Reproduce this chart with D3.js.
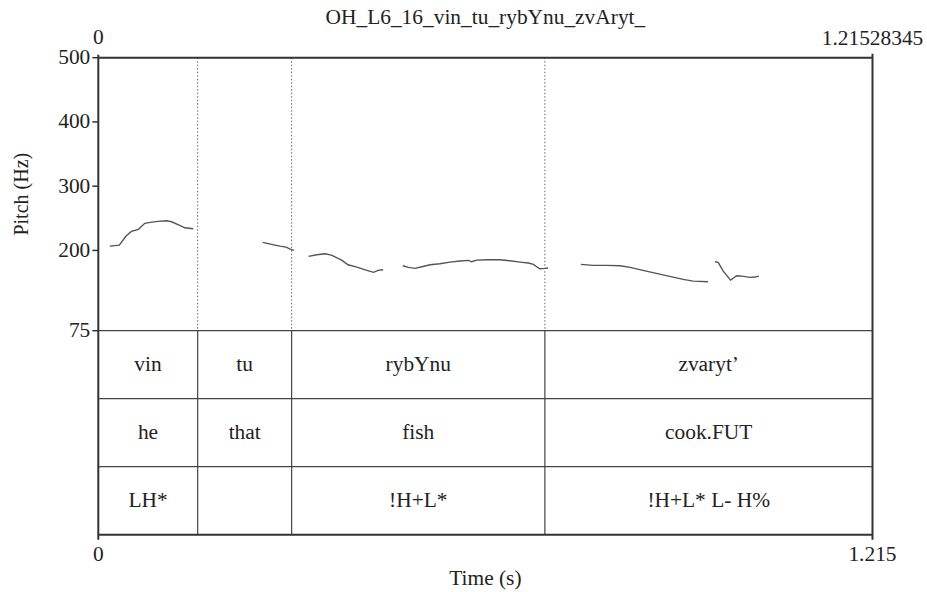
<!DOCTYPE html>
<html>
<head>
<meta charset="utf-8">
<script src="https://cdn.jsdelivr.net/npm/d3@7"></script>
<style>
  body { margin: 0; background: #fff; }
</style>
</head>
<body>
<div id="chart"></div>
<script>
var width = 927,
    height = 592;

var title = "OH_L6_16_vin_tu_rybYnu_zvAryt_";
var duration = 1.21528345;
var yTicks = [500, 400, 300, 200, 75];

// interval boundaries (s)
var bounds = [0, 0.156, 0.3035, 0.701, duration];
var words = ["vin", "tu", "rybYnu", "zvaryt\u2019"];
var glosses = ["he", "that", "fish", "cook.FUT"];
var tones = ["LH*", "", "!H+L*", "!H+L* L- H%"];

// pitch track pieces [time, Hz]
var seg1 = [[0.018,206.7],[0.033,208.3],[0.0435,222.3],[0.052,229.6],[0.063,232.8],[0.073,242.1],[0.084,244.1],[0.094,245.2],[0.107,246.1],[0.115,244.6],[0.126,239.9],[0.136,235.2],[0.149,233.7]];
var seg2 = [[0.258,212.5],[0.272,209.4],[0.285,206.7],[0.295,205.2],[0.301,202.1],[0.307,200]];
var seg3 = [[0.330,190.7],[0.343,193.2],[0.356,194.8],[0.366,192.7],[0.382,184.9],[0.392,177.6],[0.406,174],[0.419,169.8],[0.432,165.8],[0.439,168.9],[0.447,169.8]];
var seg4 = [[0.478,176.1],[0.487,173.6],[0.497,172],[0.508,174.5],[0.521,177.6],[0.536,179.2],[0.552,181.8],[0.568,183.4],[0.581,184.5],[0.586,182.3],[0.594,184.9],[0.610,185.4],[0.630,185.4],[0.646,183.8],[0.662,181.8],[0.675,180.3],[0.683,178.2],[0.688,174.5],[0.693,171.4],[0.701,172],[0.706,172.5]];
var seg5 = [[0.7575,178.2],[0.777,176.7],[0.798,176.7],[0.819,176.1],[0.835,173.6],[0.855,168.9],[0.876,164.2],[0.897,159.6],[0.918,154.9],[0.934,152.2],[0.957,151.1]];
var seg6 = [[0.968,182.3],[0.973,181.4],[0.981,167.8],[0.9925,153.8],[1.002,160.5],[1.010,160],[1.023,158],[1.031,158.5],[1.037,160]];
var segments = [seg1, seg2, seg3, seg4, seg5, seg6];

var x0 = 98.3, x1 = 872.5, y0 = 57.7, pitchBottom = 330.7, tierH = 68, y1 = pitchBottom + 3 * tierH;
var fontSize = 20, stretch = 1.07;

var svg = d3.select("#chart").append("svg")
    .attr("width", width)
    .attr("height", height)
    .style("font-family", "'Liberation Serif', 'Times New Roman', Times, serif")
    .style("fill", "#222");

var x = d3.scaleLinear().domain([0, duration]).range([x0, x1]);
var y = d3.scaleLinear().domain([75, 500]).range([pitchBottom, y0]);

// text is a bit wider than tall in the reference
function label(px, py, txt, anchor) {
    return svg.append("text")
        .attr("transform", "translate(" + px + "," + py + ") scale(" + stretch + ",1)")
        .attr("text-anchor", anchor || "middle")
        .style("font-size", fontSize + "px")
        .text(txt);
}

// dotted boundaries in pitch area
svg.selectAll(".dot")
    .data(bounds.slice(1, -1))
    .enter().append("line")
    .attr("x1", d => x(d)).attr("x2", d => x(d))
    .attr("y1", y0).attr("y2", pitchBottom)
    .style("stroke", "#666")
    .style("stroke-width", 1)
    .style("stroke-dasharray", "1.5,2");

// pitch contour
var line = d3.line().x(d => x(d[0])).y(d => y(d[1]));
svg.selectAll(".pitch")
    .data(segments)
    .enter().append("path")
    .attr("d", line)
    .style("fill", "none")
    .style("stroke", "#555")
    .style("stroke-width", 1.4);

// tiers
var tiers = [words, glosses, tones];
tiers.forEach(function(labels, i) {
    var ty = pitchBottom + i * tierH;
    svg.append("line")
        .attr("x1", x0).attr("x2", x1)
        .attr("y1", ty).attr("y2", ty)
        .style("stroke", "#444").style("stroke-width", 1.2);
    svg.selectAll(".b" + i)
        .data(bounds.slice(1, -1))
        .enter().append("line")
        .attr("x1", d => x(d)).attr("x2", d => x(d))
        .attr("y1", ty).attr("y2", ty + tierH)
        .style("stroke", "#444").style("stroke-width", 1.2);
    labels.forEach(function(d, j) {
        label((x(bounds[j]) + x(bounds[j + 1])) / 2, ty + tierH / 2 + 6.5, d);
    });
});

// frame
svg.append("path")
    .attr("d", "M" + x0 + "," + (y0 - 3) + "V" + (y1 + 5) +
               "M" + x0 + "," + y0 + "H" + x1 +
               "M" + x1 + "," + (y0 - 4) + "V" + (y1 + 5) +
               "M" + x0 + "," + y1 + "H" + x1)
    .style("fill", "none")
    .style("stroke", "#333")
    .style("stroke-width", 2);

// y ticks
svg.selectAll(".ytick")
    .data(yTicks)
    .enter().append("line")
    .attr("x1", x0 - 6).attr("x2", x0)
    .attr("y1", d => y(d)).attr("y2", d => y(d))
    .style("stroke", "#333").style("stroke-width", 1.5);

yTicks.forEach(function(d) {
    label(x0 - 8, y(d) + 6.5, d, "end");
});

// time labels
label(x0, 44, "0");
label(x1, 45, String(duration));
label(x0, 561, "0");
label(x1, 561, duration.toFixed(3));

label((x0 + x1) / 2, 24, title);
label((x0 + x1) / 2, 585, "Time (s)");
svg.append("text")
    .attr("transform", "translate(28," + ((y0 + pitchBottom) / 2) + ") rotate(-90)")
    .attr("text-anchor", "middle")
    .style("font-size", fontSize + "px").text("Pitch (Hz)");
</script>
</body>
</html>
